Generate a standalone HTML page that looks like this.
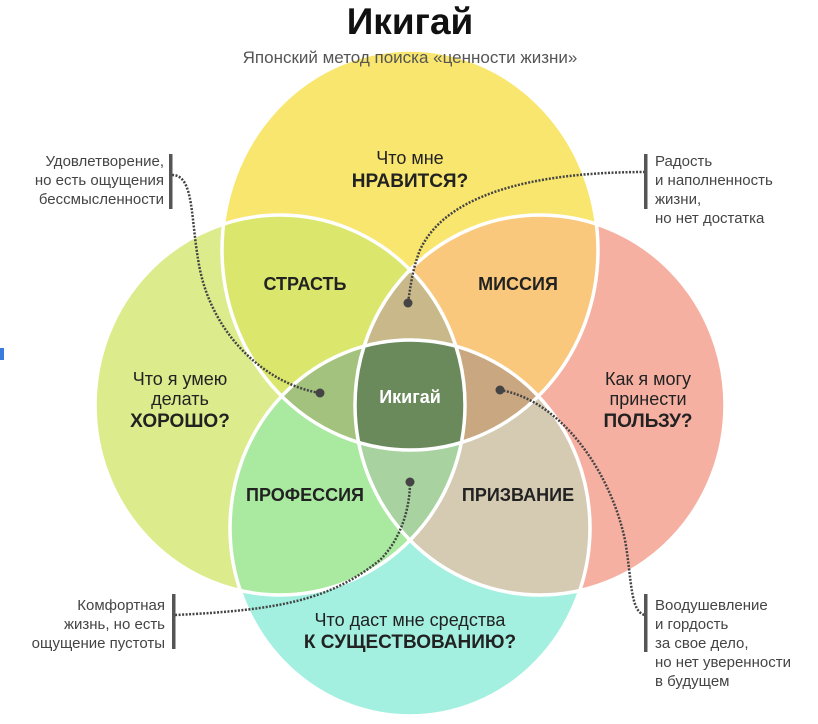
<!DOCTYPE html>
<html><head><meta charset="utf-8"><style>
html,body{margin:0;padding:0;background:#fff;}
svg{display:block;font-family:"Liberation Sans",sans-serif;}
</style></head><body>
<svg width="818" height="724" viewBox="0 0 818 724" xmlns="http://www.w3.org/2000/svg">
<defs>
<clipPath id="cT"><ellipse cx="410" cy="250" rx="188" ry="200"/></clipPath>
<clipPath id="cL"><ellipse cx="280" cy="405" rx="185" ry="190"/></clipPath>
<clipPath id="cR"><ellipse cx="540" cy="405" rx="185" ry="190"/></clipPath>
<clipPath id="cB"><ellipse cx="410" cy="528" rx="180" ry="188"/></clipPath>
</defs>
<rect x="0" y="348" width="4" height="12" fill="#3a7be0"/>
<ellipse cx="410" cy="250" rx="188" ry="200" fill="#f9e66e"/>
<ellipse cx="280" cy="405" rx="185" ry="190" fill="#dcec8c"/>
<ellipse cx="540" cy="405" rx="185" ry="190" fill="#f6b0a2"/>
<ellipse cx="410" cy="528" rx="180" ry="188" fill="#a3f0e0"/>
<g clip-path="url(#cT)"><rect x="0" y="0" width="818" height="724" fill="#dbe76c" clip-path="url(#cL)"/></g>
<g clip-path="url(#cT)"><rect x="0" y="0" width="818" height="724" fill="#f9c87c" clip-path="url(#cR)"/></g>
<g clip-path="url(#cL)"><rect x="0" y="0" width="818" height="724" fill="#a9eaa0" clip-path="url(#cB)"/></g>
<g clip-path="url(#cR)"><rect x="0" y="0" width="818" height="724" fill="#d5cbb3" clip-path="url(#cB)"/></g>
<g clip-path="url(#cT)"><g clip-path="url(#cL)"><rect x="0" y="0" width="818" height="724" fill="#c9b98a" clip-path="url(#cR)"/></g></g>
<g clip-path="url(#cT)"><g clip-path="url(#cL)"><rect x="0" y="0" width="818" height="724" fill="#a2c27e" clip-path="url(#cB)"/></g></g>
<g clip-path="url(#cT)"><g clip-path="url(#cR)"><rect x="0" y="0" width="818" height="724" fill="#c8a781" clip-path="url(#cB)"/></g></g>
<g clip-path="url(#cL)"><g clip-path="url(#cR)"><rect x="0" y="0" width="818" height="724" fill="#a8d3a0" clip-path="url(#cB)"/></g></g>
<g clip-path="url(#cT)"><g clip-path="url(#cL)"><g clip-path="url(#cR)"><rect x="0" y="0" width="818" height="724" fill="#6b8a5c" clip-path="url(#cB)"/></g></g></g>
<g fill="none" stroke="#fff" stroke-width="3.5">
<ellipse cx="410" cy="250" rx="188" ry="200"/>
<ellipse cx="280" cy="405" rx="185" ry="190"/>
<ellipse cx="540" cy="405" rx="185" ry="190"/>
<ellipse cx="410" cy="528" rx="180" ry="188"/>
</g>
<g fill="none" stroke="#444" stroke-width="2.5" stroke-dasharray="2 1.5">
<path d="M172 175 C 195 175, 190 220, 200 270 C 215 340, 270 385, 320 393"/>
<path d="M645 172 C 560 172, 450 185, 420 250 C 412 270, 410 290, 408 303"/>
<path d="M175 615 C 280 610, 330 600, 380 560 C 400 540, 410 510, 410 482"/>
<path d="M500 390 C 560 400, 610 470, 625 540 C 632 580, 630 612, 645 615"/>
</g>
<g fill="#444"><circle cx="320" cy="393" r="4.5"/><circle cx="408" cy="303" r="4.5"/><circle cx="410" cy="482" r="4.5"/><circle cx="500" cy="390" r="4.5"/></g>
<g fill="#555"><rect x="169" y="154" width="3.5" height="55"/><rect x="644" y="154" width="3.5" height="55"/><rect x="172" y="594" width="3.5" height="55"/><rect x="644" y="594" width="3.5" height="58"/></g>
<text x="410" y="34" text-anchor="middle" font-size="37" font-weight="bold" fill="#111">Икигай</text>
<text x="410" y="63" text-anchor="middle" font-size="17" fill="#555">Японский метод поиска «ценности жизни»</text>
<g font-size="15" fill="#444">
<text x="164" y="166" text-anchor="end">Удовлетворение,</text>
<text x="164" y="185" text-anchor="end">но есть ощущения</text>
<text x="164" y="204" text-anchor="end">бессмысленности</text>
<text x="655" y="166">Радость</text>
<text x="655" y="185">и наполненность</text>
<text x="655" y="204">жизни,</text>
<text x="655" y="223">но нет достатка</text>
<text x="165" y="610" text-anchor="end">Комфортная</text>
<text x="165" y="629" text-anchor="end">жизнь, но есть</text>
<text x="165" y="648" text-anchor="end">ощущение пустоты</text>
<text x="655" y="610">Воодушевление</text>
<text x="655" y="629">и гордость</text>
<text x="655" y="648">за свое дело,</text>
<text x="655" y="667">но нет уверенности</text>
<text x="655" y="686">в будущем</text>
</g>
<g text-anchor="middle" fill="#222">
<text x="410" y="164" font-size="18">Что мне</text>
<text x="410" y="187" font-size="19" font-weight="bold">НРАВИТСЯ?</text>
<text x="180" y="385" font-size="18">Что я умею</text>
<text x="180" y="405" font-size="18">делать</text>
<text x="180" y="427" font-size="19" font-weight="bold">ХОРОШО?</text>
<text x="648" y="385" font-size="18">Как я могу</text>
<text x="648" y="405" font-size="18">принести</text>
<text x="648" y="427" font-size="19" font-weight="bold">ПОЛЬЗУ?</text>
<text x="410" y="626" font-size="18">Что даст мне средства</text>
<text x="410" y="648" font-size="19" font-weight="bold">К СУЩЕСТВОВАНИЮ?</text>
<text x="305" y="290" font-size="18" font-weight="bold">СТРАСТЬ</text>
<text x="518" y="290" font-size="18" font-weight="bold">МИССИЯ</text>
<text x="305" y="501" font-size="18" font-weight="bold">ПРОФЕССИЯ</text>
<text x="518" y="501" font-size="18" font-weight="bold">ПРИЗВАНИЕ</text>
<text x="410" y="403" font-size="18" font-weight="bold" fill="#fff">Икигай</text>
</g>
</svg>
</body></html>
